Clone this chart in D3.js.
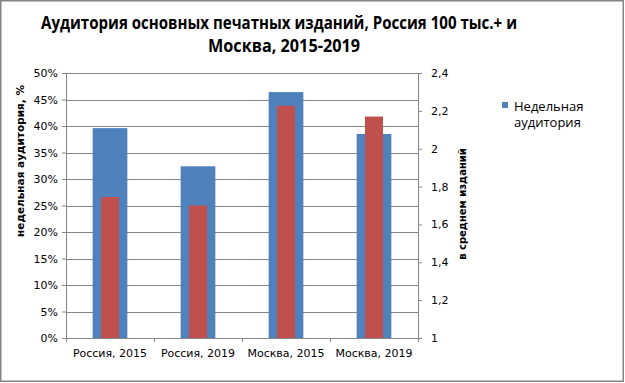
<!DOCTYPE html>
<meta charset="utf-8">
<style>
body {
  margin: 0;
  overflow: hidden;
  background: #fff;
}
.tick text {
  font-family: "DejaVu Sans", sans-serif;
  font-size: 11px;
  fill: #000;
}
.domain,
.tick line {
  stroke: #868686;
}
.grid line {
  stroke: #868686;
  stroke-width: 1;
}
.axis-title {
  font-family: "DejaVu Sans", sans-serif;
  font-weight: bold;
}
</style>
<svg id="svg" width="625" height="383"></svg>
<script src="https://d3js.org/d3.v7.min.js"></script>
<script>

// data
var categories = ["Россия, 2015", "Россия, 2019", "Москва, 2015", "Москва, 2019"];
var weeklyAudience = [0.396, 0.324, 0.464, 0.385];     // left axis, share
var perReaderTitles = [1.745, 1.70, 2.227, 2.17];      // right axis
var leftTicks = [0, 0.05, 0.1, 0.15, 0.2, 0.25, 0.3, 0.35, 0.4, 0.45, 0.5];
var rightTicks = [1, 1.2, 1.4, 1.6, 1.8, 2, 2.2, 2.4];
var titleLines = ["Аудитория основных печатных изданий, Россия 100 тыс.+ и", "Москва, 2015-2019"];
var leftTitle = "недельная аудитория, %";
var rightTitle = "в среднем изданий";
var legendLines = ["Недельная", "аудитория"];

var svg = d3.select("svg");

var plot = {left: 66, right: 418, top: 73, bottom: 338};

var x = d3.scaleBand()
    .domain(categories)
    .range([plot.left, plot.right])
    .paddingInner(0.606)
    .paddingOuter(0.303);

var xRed = d3.scaleBand()
    .domain(categories)
    .range([plot.left, plot.right])
    .paddingInner(0.795)
    .paddingOuter(0.3975);

var y = d3.scaleLinear().domain([0, 0.5]).range([plot.bottom, plot.top]);
var y2 = d3.scaleLinear().domain([1, 2.4]).range([plot.bottom, plot.top]);

var ruLocale = d3.formatLocale({decimal: ",", thousands: " ", grouping: [3], currency: ["", ""]});

// outer frame
svg.append("rect")
    .attr("x", 0.75).attr("y", 0.75)
    .attr("width", 622.5).attr("height", 380.5)
    .attr("fill", "#fff")
    .attr("stroke", "#868686")
    .attr("stroke-width", 1.5);

// gridlines
svg.append("g")
    .attr("class", "grid")
  .selectAll("line")
  .data(leftTicks.slice(1))
  .enter().append("line")
    .attr("x1", plot.left)
    .attr("x2", plot.right)
    .attr("y1", function(d) { return Math.round(y(d)) + 0.5; })
    .attr("y2", function(d) { return Math.round(y(d)) + 0.5; });

// bars
svg.append("g")
  .selectAll("rect")
  .data(weeklyAudience)
  .enter().append("rect")
    .attr("x", function(d, i) { return x(categories[i]); })
    .attr("width", x.bandwidth())
    .attr("y", function(d) { return y(d); })
    .attr("height", function(d) { return plot.bottom - y(d); })
    .attr("fill", "#4F81BD");

svg.append("g")
  .selectAll("rect")
  .data(perReaderTitles)
  .enter().append("rect")
    .attr("x", function(d, i) { return xRed(categories[i]); })
    .attr("width", xRed.bandwidth())
    .attr("y", function(d) { return y2(d); })
    .attr("height", function(d) { return plot.bottom - y2(d); })
    .attr("fill", "#C0504D");

// axes
svg.append("g")
    .attr("transform", "translate(" + plot.left + ",0)")
    .call(d3.axisLeft(y).tickValues(leftTicks).tickFormat(d3.format(".0%"))
      .tickSizeInner(4).tickSizeOuter(0).tickPadding(4));

svg.append("g")
    .attr("transform", "translate(" + plot.right + ",0)")
    .call(d3.axisRight(y2).tickValues(rightTicks).tickFormat(ruLocale.format(".1~f"))
      .tickSizeInner(4).tickSizeOuter(0).tickPadding(9));

var bottomAxis = svg.append("g")
    .attr("transform", "translate(0," + plot.bottom + ")")
    .call(d3.axisBottom(x).tickSize(0).tickSizeOuter(0).tickPadding(11));

// category boundary ticks
bottomAxis.selectAll(".sep")
  .data(d3.range(categories.length + 1))
  .enter().append("line")
    .attr("class", "sep")
    .attr("x1", function(i) { return Math.round(plot.left + i * x.step()) + 0.5; })
    .attr("x2", function(i) { return Math.round(plot.left + i * x.step()) + 0.5; })
    .attr("y1", 0)
    .attr("y2", 4)
    .attr("stroke", "#868686");

// axis titles
svg.append("text")
    .attr("class", "axis-title")
    .attr("font-size", 10.5)
    .attr("transform", "translate(24,161) rotate(-90)")
    .attr("text-anchor", "middle")
    .text(leftTitle);

svg.append("text")
    .attr("class", "axis-title")
    .attr("font-size", 10)
    .attr("transform", "translate(466,204) rotate(-90)")
    .attr("text-anchor", "middle")
    .text(rightTitle);

// title
var titleLayout = [{cx: 279, y: 29, w: 476}, {cx: 284, y: 52, w: 152}];
svg.append("g")
  .selectAll("text")
  .data(titleLines)
  .enter().append("text")
    .attr("x", function(d, i) { return titleLayout[i].cx; })
    .attr("y", function(d, i) { return titleLayout[i].y; })
    .attr("text-anchor", "middle")
    .attr("textLength", function(d, i) { return titleLayout[i].w; })
    .attr("lengthAdjust", "spacingAndGlyphs")
    .attr("font-family", "'Open Sans', sans-serif")
    .attr("font-weight", "bold")
    .attr("font-size", 17.5)
    .text(function(d) { return d; });

// legend
var legend = svg.append("g").attr("transform", "translate(502,102)");
legend.append("rect")
    .attr("width", 6).attr("height", 6)
    .attr("fill", "#4F81BD");
legend.selectAll("text")
  .data(legendLines)
  .enter().append("text")
    .attr("x", 12)
    .attr("y", function(d, i) { return 8.5 + i * 16.5; })
    .attr("font-family", "'Open Sans', sans-serif")
    .attr("font-size", 13)
    .text(function(d) { return d; });

</script>
